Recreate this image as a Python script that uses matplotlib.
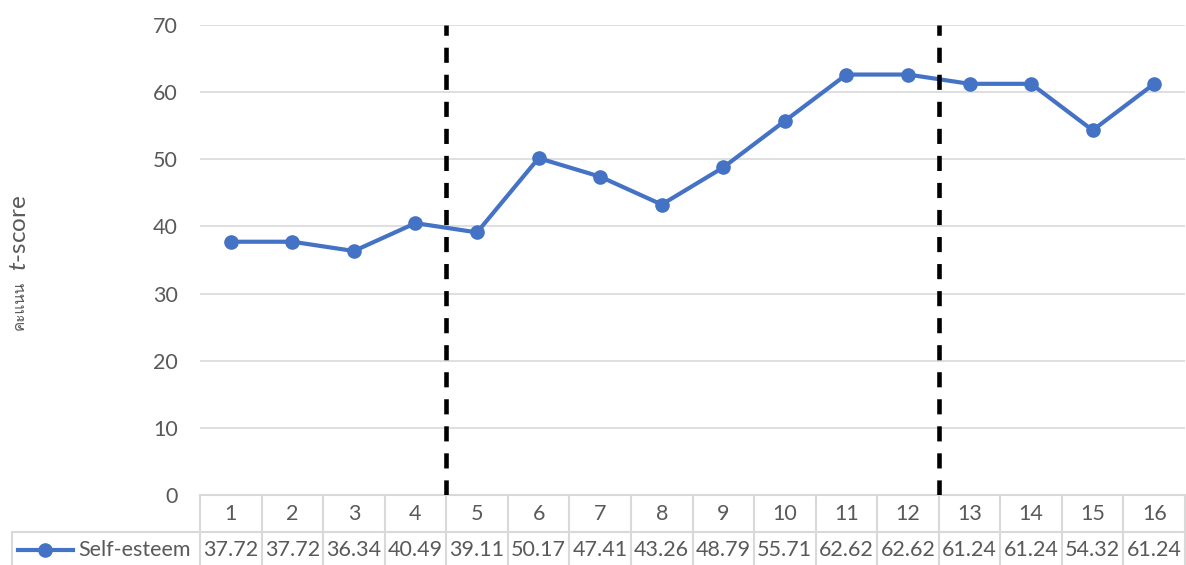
import matplotlib
matplotlib.use("Agg")
import matplotlib.pyplot as plt
from matplotlib import font_manager

sessions = ["1", "2", "3", "4", "5", "6", "7", "8",
            "9", "10", "11", "12", "13", "14", "15", "16"]
self_esteem = [37.72, 37.72, 36.34, 40.49, 39.11, 50.17, 47.41, 43.26,
               48.79, 55.71, 62.62, 62.62, 61.24, 61.24, 54.32, 61.24]
series_name = "Self-esteem"
phase_breaks = [4.5, 12.5]
y_ticks = [0, 10, 20, 30, 40, 50, 60, 70]

BLUE = "#4472C4"
GREY_TXT = "#595959"
GRID = "#d9d9d9"
FS = 15.5

# pick a font that can draw Thai, if there is one
installed = {f.name for f in font_manager.fontManager.ttflist}
thai_fonts = [n for n in installed if "Thai" in n or n in
              ("Loma", "Garuda", "Norasi", "Waree", "Sarabun", "Kinnari", "Umpush")]
thai_family = thai_fonts[:1] + ["DejaVu Sans"]

plt.rcParams["font.family"] = ["Lato", "DejaVu Sans"]
plt.rcParams["mathtext.fontset"] = "custom"
plt.rcParams["mathtext.it"] = "Lato:italic"
plt.rcParams["mathtext.rm"] = "Lato"

fig = plt.figure(figsize=(11.86, 5.65), dpi=100)
ax = fig.add_axes([200 / 1186, 1 - 495 / 565, 985 / 1186, 470 / 565])

x = list(range(1, len(sessions) + 1))
ax.plot(x, self_esteem, color=BLUE, lw=3, marker="o", ms=9.5, zorder=3)

for b in phase_breaks:
    ax.plot([b, b], [0, 70], color="black", lw=3.3, dashes=(3.3, 2.6), zorder=4)

ax.set_xlim(0.5, len(sessions) + 0.5)
ax.set_ylim(0, 70)
ax.set_yticks(y_ticks)
ax.set_xticks([])
ax.tick_params(axis="y", length=0, pad=16, labelsize=FS, labelcolor=GREY_TXT)
ax.grid(axis="y", color=GRID, lw=1.2)
ax.set_axisbelow(True)
for s in ax.spines.values():
    s.set_visible(False)

# data table under the plot
tr = ax.get_xaxis_transform()
h1 = -37 / 470
h2 = -75 / 470
for i in range(len(sessions) + 1):
    xb = 0.5 + i
    ax.plot([xb, xb], [0, h2], transform=tr, color=GRID, lw=1.5, clip_on=False)
ax.plot([0.5, len(sessions) + 0.5], [0, 0], transform=tr, color=GRID, lw=1.5, clip_on=False)
ax.plot([-0.1909, 1.0], [h1, h1], transform=ax.transAxes, color=GRID, lw=1.5, clip_on=False)
ax.plot([-0.1909, -0.1909], [h1, h2], transform=ax.transAxes, color=GRID, lw=1.5, clip_on=False)

for xi, lab, v in zip(x, sessions, self_esteem):
    ax.text(xi, -19 / 470, lab, transform=tr, ha="center", va="center",
            fontsize=FS, color=GREY_TXT)
    ax.text(xi, -55 / 470, f"{v:.2f}", transform=tr, ha="center", va="center",
            fontsize=FS, color=GREY_TXT)

# legend key inside the table
ax.plot([-0.1848, -0.1289], [-55 / 470, -55 / 470], transform=ax.transAxes,
        color=BLUE, lw=3, clip_on=False)
ax.plot([-0.1574], [-55 / 470], transform=ax.transAxes, marker="o", ms=9.5,
        color=BLUE, clip_on=False)
ax.text(-0.1239, -55 / 470, series_name, transform=ax.transAxes, ha="left",
        va="center", fontsize=FS, color=GREY_TXT)

# y axis title: Thai word plus t-score with italic t
fig.text(20 / 1186, 1 - 305 / 565, "คะแนน", rotation=90, ha="center", va="center",
         fontsize=11, color=GREY_TXT, family=thai_family)
fig.text(19 / 1186, 1 - 233 / 565, r"$t$-score", rotation=90, ha="center", va="center",
         fontsize=17.5, color=GREY_TXT)

fig.savefig("out.png", dpi=100)
